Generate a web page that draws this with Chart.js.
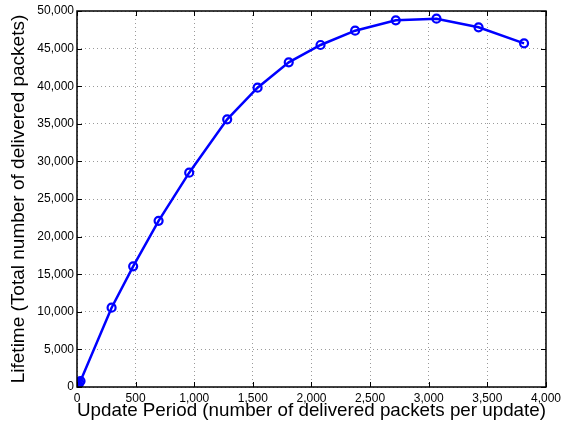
<!DOCTYPE html>
<html lang="en">
<head>
<meta charset="UTF-8">
<title>Lifetime vs Update Period</title>
<script src="https://cdn.jsdelivr.net/npm/chart.js"></script>
<style>
    body { margin: 0; background: #ffffff; }
    #wrap { width: 565px; height: 425px; }
</style>
</head>
<body>
<div id="wrap"><canvas id="lifeChart" width="565" height="425"></canvas></div>
<script>
// values
const updatePeriod = [1, 5, 10, 20, 30, 295, 479, 696, 957, 1281, 1540, 1806, 2077, 2372, 2719, 3066, 3425, 3813];
const lifetime = [25, 150, 300, 550, 800, 10550, 16050, 22100, 28500, 35600, 39800, 43180, 45480, 47380, 48760, 48980, 47830, 45700];
const xTicks = [0, 500, 1000, 1500, 2000, 2500, 3000, 3500, 4000];
const yTicks = [0, 5000, 10000, 15000, 20000, 25000, 30000, 35000, 40000, 45000, 50000];

const points = updatePeriod.map((x, i) => ({ x: x, y: lifetime[i] }));
const fmt = v => Number(v).toLocaleString('en-US');

// matlab-like box with inward ticks
const boxPlugin = {
    id: 'box',
    afterDraw(chart) {
        const { ctx, chartArea: a, scales } = chart;
        ctx.save();
        ctx.strokeStyle = '#000';
        ctx.lineWidth = 1;
        const len = 5;
        ctx.beginPath();
        xTicks.forEach(t => {
            const px = Math.round(scales.x.getPixelForValue(t)) + 0.5;
            ctx.moveTo(px, a.bottom); ctx.lineTo(px, a.bottom - len);
            ctx.moveTo(px, a.top); ctx.lineTo(px, a.top + len);
        });
        yTicks.forEach(t => {
            const py = Math.round(scales.y.getPixelForValue(t)) + 0.5;
            ctx.moveTo(a.left, py); ctx.lineTo(a.left + len, py);
            ctx.moveTo(a.right, py); ctx.lineTo(a.right - len, py);
        });
        ctx.stroke();
        ctx.lineWidth = 1.5;
        ctx.strokeRect(a.left, a.top, a.right - a.left, a.bottom - a.top);
        ctx.restore();
    }
};

new Chart(document.getElementById('lifeChart'), {
    type: 'line',
    data: {
        datasets: [{
            data: points,
            borderColor: '#0000ff',
            borderWidth: 2.5,
            pointStyle: 'circle',
            pointRadius: 4,
            pointBorderWidth: 2.2,
            pointBorderColor: '#0000ff',
            pointBackgroundColor: 'rgba(0,0,0,0)',
            tension: 0
        }]
    },
    options: {
        responsive: false,
        animation: false,
        layout: { padding: { top: 11, right: 19, left: 0, bottom: 0 } },
        plugins: { legend: { display: false }, tooltip: { enabled: false } },
        scales: {
            x: {
                type: 'linear',
                min: 0, max: 4000,
                afterBuildTicks: s => { s.ticks = xTicks.map(v => ({ value: v })); },
                afterFit: s => { s.height = 38; },
                grid: { color: '#9a9a9a', lineWidth: 1, drawTicks: false },
                border: { display: false, dash: [1, 3] },
                ticks: {
                    color: '#000', padding: 4,
                    font: { family: 'Liberation Sans, Arial', size: 12 },
                    maxRotation: 0,
                    callback: v => fmt(v)
                },
                title: {
                    display: true,
                    text: 'Update Period (number of delivered packets per update)',
                    color: '#000',
                    font: { family: 'Liberation Sans, Arial', size: 19 },
                    padding: { top: 0, bottom: 3 }
                }
            },
            y: {
                min: 0, max: 50000,
                afterBuildTicks: s => { s.ticks = yTicks.map(v => ({ value: v })); },
                afterFit: s => { s.width = 77; },
                grid: { color: '#9a9a9a', lineWidth: 1, drawTicks: false },
                border: { display: false, dash: [1, 3] },
                ticks: {
                    color: '#000', padding: 3,
                    font: { family: 'Liberation Sans, Arial', size: 12 },
                    callback: v => fmt(v)
                },
                title: {
                    display: true,
                    text: 'Lifetime (Total number of delivered packets)',
                    color: '#000',
                    font: { family: 'Liberation Sans, Arial', size: 19 },
                    padding: { top: 7, bottom: 0 }
                }
            }
        }
    },
    plugins: [boxPlugin]
});
</script>
</body>
</html>
